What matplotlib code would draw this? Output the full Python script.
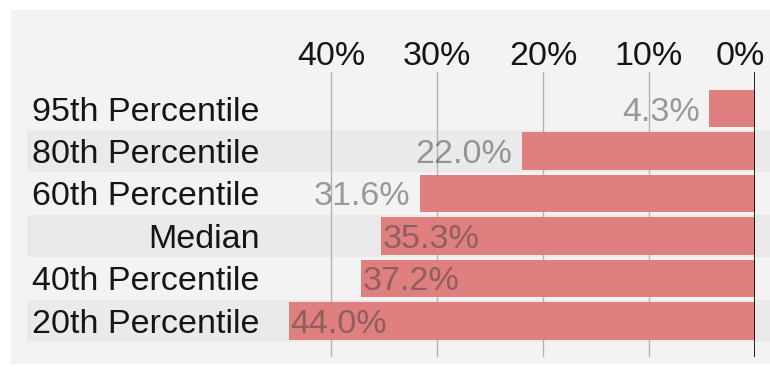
import numpy as np
import matplotlib
matplotlib.use('Agg')
import matplotlib.pyplot as plt
from matplotlib.patches import Rectangle
from matplotlib.transforms import blended_transform_factory, ScaledTranslation

# chart data
categories = ['95th Percentile', '80th Percentile', '60th Percentile',
              'Median', '40th Percentile', '20th Percentile']
values = [4.3, 22.0, 31.6, 35.3, 37.2, 44.0]
ticks = [40, 30, 20, 10, 0]
tick_labels = ['40%', '30%', '20%', '10%', '0%']

plt.rcParams['font.family'] = ['Liberation Sans', 'DejaVu Sans']
fs = 24.5

fig = plt.figure(figsize=(7.7, 3.67), dpi=100)
# light grey panel behind everything
fig.patches.append(Rectangle((11 / 770, 0.008), 1, 0.965, transform=fig.transFigure,
                             facecolor='#f3f3f3', edgecolor='none', zorder=-10))

ax = fig.add_axes([0.3748, 0.0272, 0.6057, 0.7766])
ax.set_facecolor('none')

y = np.arange(len(categories))
ax.barh(y, values, height=0.89, color='#e07f7f', zorder=2)
ax.set_xlim(max(values), 0)
ax.set_ylim(len(categories) - 1 + 0.85, -0.86)

# alternating row bands, running from the labels to the right edge
band_tr = blended_transform_factory(fig.transFigure, ax.transData)
for i in y[1::2]:
    ax.add_patch(Rectangle((27 / 770, i - 0.5), 1, 1, transform=band_tr,
                           facecolor='#eaeaea', edgecolor='none',
                           zorder=0.1, clip_on=False))

ax.xaxis.tick_top()
ax.set_xticks(ticks, tick_labels)
ax.set_yticks(y, categories)
ax.tick_params(axis='x', length=0, pad=0, labelsize=fs, labelcolor='#151515')
ax.tick_params(axis='y', length=0, pad=21, labelsize=fs, labelcolor='#151515')
for tick in ax.xaxis.get_major_ticks():
    if tick.label2.get_text() == '0%':
        tick.label2.set_horizontalalignment('right')
        tick.label2.set_transform(tick.label2.get_transform() +
                                  ScaledTranslation(0.10, 0, fig.dpi_scale_trans))

ax.grid(axis='x', color='#b3b3b3', lw=1)
ax.grid(axis='y', visible=False)
ax.set_axisbelow(True)
for s in ax.spines.values():
    s.set_visible(False)
ax.axvline(0, color='#111111', lw=2, zorder=3)

# value labels: left of the bar if they fit, else inside the bar
lab_color = (0.25, 0.25, 0.25, 0.5)
for yi, v in zip(y, values):
    txt = f'{v:.1f}%'
    if v + 11 > max(values):
        ax.annotate(txt, (v, yi), xytext=(1.5, 0), textcoords='offset points',
                    ha='left', va='center_baseline', fontsize=fs, color=lab_color, zorder=4)
    else:
        ax.annotate(txt, (v, yi), xytext=(-7, 0), textcoords='offset points',
                    ha='right', va='center_baseline', fontsize=fs, color=lab_color, zorder=4)

fig.savefig('out.png', dpi=100)
